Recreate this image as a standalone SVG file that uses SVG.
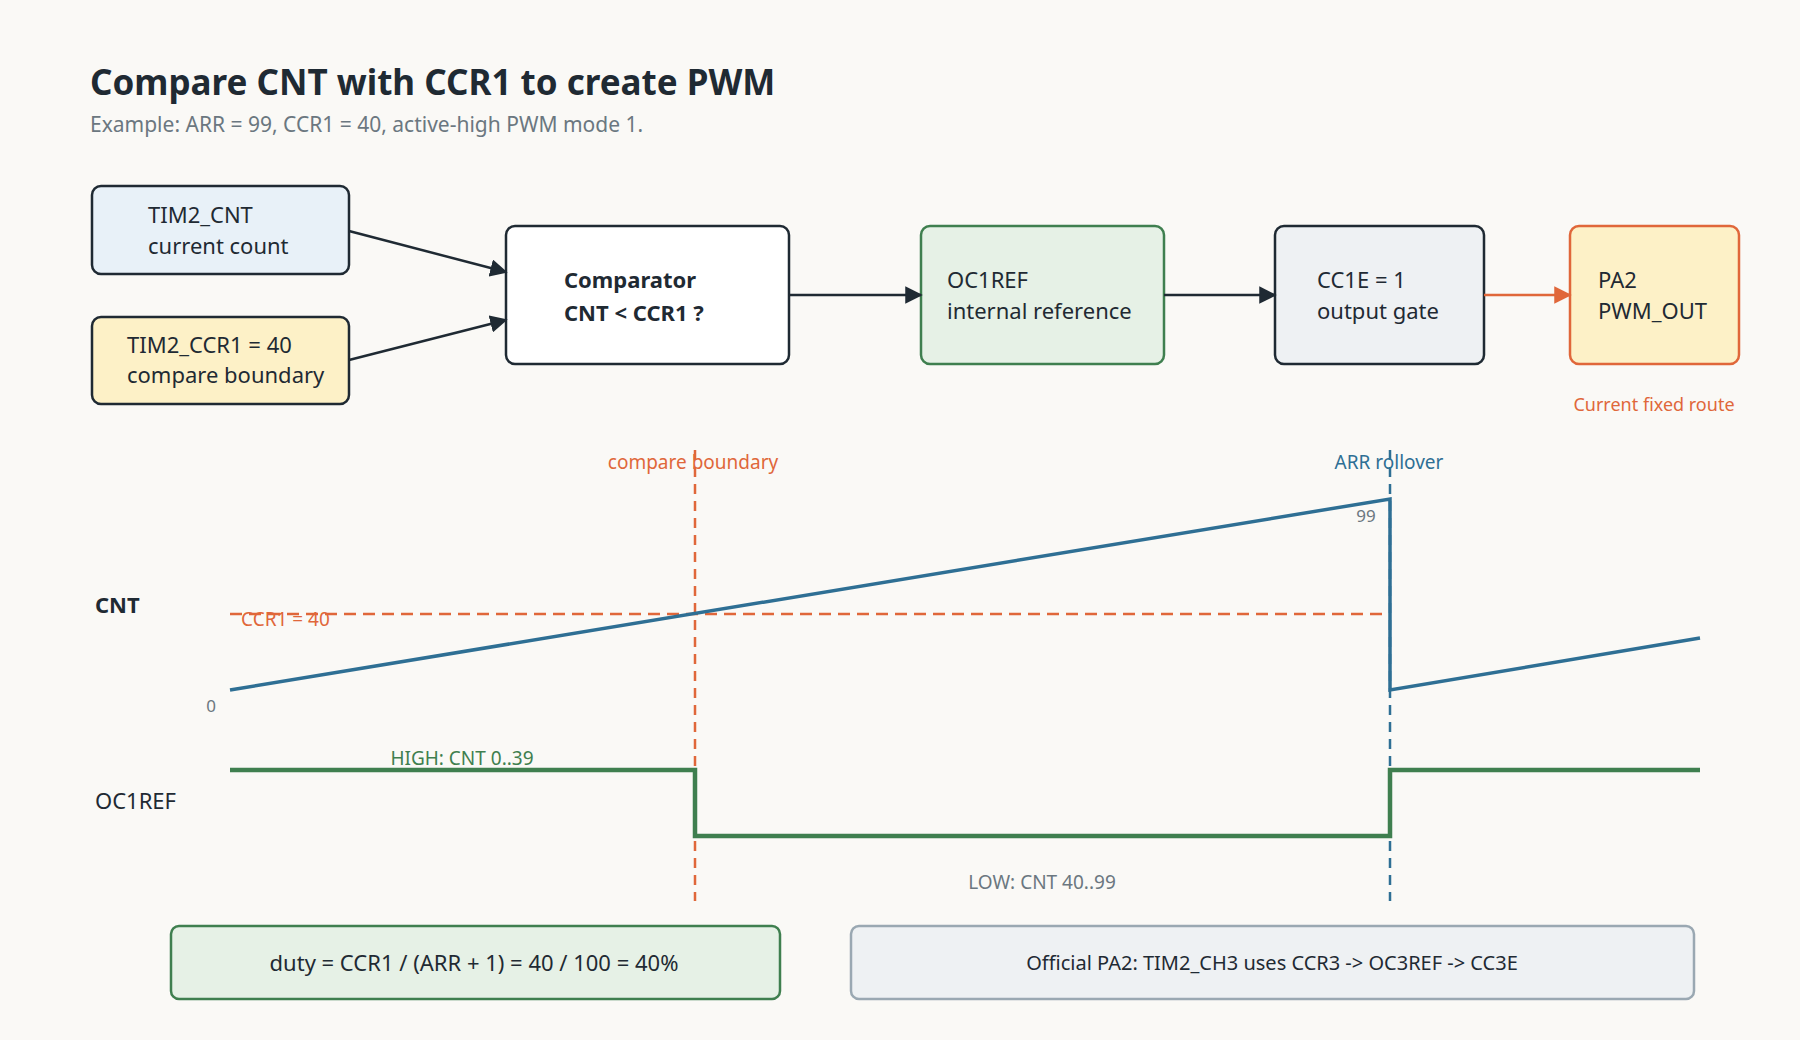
<svg xmlns="http://www.w3.org/2000/svg" width="1800" height="1040" viewBox="0 0 1800 1040">
<style>
text{font-family:"Noto Sans","Open Sans","DejaVu Sans",sans-serif;fill:#1f2a33}
.n{font-size:22px}
.box{stroke-width:2.5}
.sm{font-size:19px}
</style>
<defs>
<marker id="ad" viewBox="0 0 10 10" refX="9" refY="5" markerWidth="7" markerHeight="7" orient="auto"><path d="M0,0L10,5L0,10z" fill="#1f2a33"/></marker>
<marker id="ao" viewBox="0 0 10 10" refX="9" refY="5" markerWidth="7" markerHeight="7" orient="auto"><path d="M0,0L10,5L0,10z" fill="#e0673a"/></marker>
</defs>
<rect width="1800" height="1040" fill="#faf9f6"/>
<text x="90" y="95" font-size="35" font-weight="bold">Compare CNT with CCR1 to create PWM</text>
<text x="90" y="132" font-size="21" style="fill:#6b7780">Example: ARR = 99, CCR1 = 40, active-high PWM mode 1.</text>

<g id="tim2cnt"><rect class="box" x="92" y="186" width="257" height="88" rx="9" fill="#e8f1f8" stroke="#1f2a33"/><text class="n" x="148" y="223">TIM2_CNT</text><text class="n" x="148" y="254">current count</text></g>
<g id="tim2ccr1"><rect class="box" x="92" y="317" width="257" height="87" rx="9" fill="#fdf1c7" stroke="#1f2a33"/><text class="n" x="127" y="353">TIM2_CCR1 = 40</text><text class="n" x="127" y="383">compare boundary</text></g>
<g id="comparator"><rect class="box" x="506" y="226" width="283" height="138" rx="9" fill="#ffffff" stroke="#1f2a33"/><text class="n" x="564" y="288" font-weight="bold">Comparator</text><text class="n" x="564" y="321" font-weight="bold">CNT &lt; CCR1 ?</text></g>
<g id="oc1ref"><rect class="box" x="921" y="226" width="243" height="138" rx="9" fill="#e6f1e6" stroke="#3f7f4f"/><text class="n" x="947" y="288">OC1REF</text><text class="n" x="947" y="319">internal reference</text></g>
<g id="cc1e"><rect class="box" x="1275" y="226" width="209" height="138" rx="9" fill="#eef1f3" stroke="#1f2a33"/><text class="n" x="1317" y="288">CC1E = 1</text><text class="n" x="1317" y="319">output gate</text></g>
<g id="pa2"><rect class="box" x="1570" y="226" width="169" height="138" rx="9" fill="#fdf1c7" stroke="#e0673a"/><text class="n" x="1598" y="288">PA2</text><text class="n" x="1598" y="319">PWM_OUT</text></g>
<text x="1654" y="411" font-size="18" text-anchor="middle" style="fill:#e0673a">Current fixed route</text>

<g id="connectors" stroke-width="2.5" fill="none">
<line x1="349" y1="231" x2="506" y2="272" stroke="#1f2a33" marker-end="url(#ad)"/>
<line x1="349" y1="360" x2="506" y2="320" stroke="#1f2a33" marker-end="url(#ad)"/>
<line x1="789" y1="295" x2="921" y2="295" stroke="#1f2a33" marker-end="url(#ad)"/>
<line x1="1164" y1="295" x2="1275" y2="295" stroke="#1f2a33" marker-end="url(#ad)"/>
<line x1="1484" y1="295" x2="1570" y2="295" stroke="#e0673a" marker-end="url(#ao)"/>
</g>

<g id="timing">
<line x1="695" y1="450" x2="695" y2="901" stroke="#e0673a" stroke-width="2.5" stroke-dasharray="10,7"/>
<line x1="1390" y1="450" x2="1390" y2="901" stroke="#2e6f94" stroke-width="2.5" stroke-dasharray="10,7"/>
<text x="693" y="469" class="sm" text-anchor="middle" style="fill:#e0673a">compare boundary</text>
<text x="1389" y="469" class="sm" text-anchor="middle" style="fill:#2e6f94">ARR rollover</text>
<text x="95" y="613" font-size="22" font-weight="bold">CNT</text>
<line x1="230" y1="614" x2="1390" y2="614" stroke="#e0673a" stroke-width="2.5" stroke-dasharray="12,7"/>
<text x="241" y="626" class="sm" style="fill:#e0673a">CCR1 = 40</text>
<polyline points="230,690 1390,499 1390,690 1700,638" fill="none" stroke="#2e6f94" stroke-width="3.5"/>
<text x="211" y="712" font-size="17" text-anchor="middle" style="fill:#6b7780">0</text>
<text x="1366" y="522" font-size="17" text-anchor="middle" style="fill:#6b7780">99</text>
<text x="95" y="809" font-size="22">OC1REF</text>
<polyline points="230,770 695,770 695,836 1390,836 1390,770 1700,770" fill="none" stroke="#3f7f4f" stroke-width="4.5"/>
<text x="462" y="765" class="sm" text-anchor="middle" style="fill:#3f7f4f">HIGH: CNT 0..39</text>
<text x="1042" y="889" class="sm" text-anchor="middle" style="fill:#6b7780">LOW: CNT 40..99</text>
</g>

<g id="duty"><rect x="171" y="926" width="609" height="73" rx="8" fill="#e6f1e6" stroke="#3f7f4f" stroke-width="2.5"/><text x="474" y="971" class="n" text-anchor="middle">duty = CCR1 / (ARR + 1) = 40 / 100 = 40%</text></g>
<g id="official"><rect x="851" y="926" width="843" height="73" rx="8" fill="#eef1f3" stroke="#9aa8b2" stroke-width="2.5"/><text x="1272" y="970" font-size="20" text-anchor="middle">Official PA2: TIM2_CH3 uses CCR3 -&gt; OC3REF -&gt; CC3E</text></g>
</svg>
